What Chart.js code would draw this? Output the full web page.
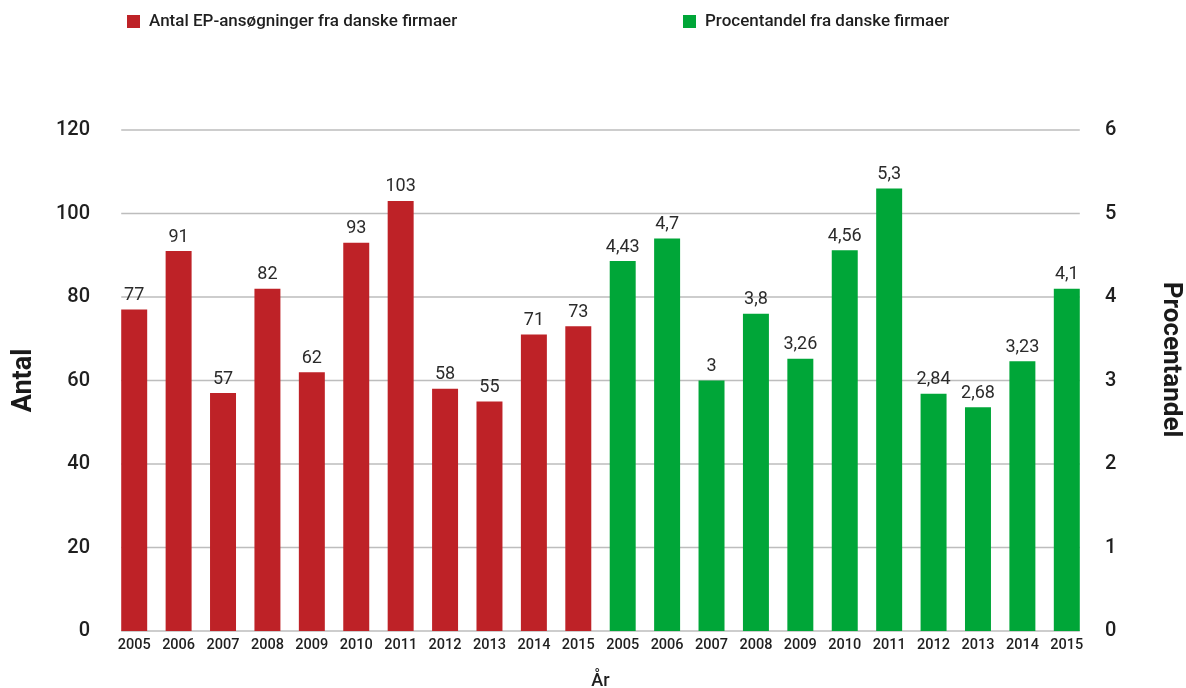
<!DOCTYPE html>
<html><head><meta charset="utf-8">
<script src="https://cdn.jsdelivr.net/npm/chart.js@4.4.1/dist/chart.umd.min.js"></script>
<style>html,body{margin:0;padding:0;background:#fff;}#wrap{position:relative;width:1186px;height:688px;}</style>
</head><body><div id="wrap"><canvas id="c" width="1186" height="688"></canvas></div>
<script>
// ---- data ----
const years = ['2005','2006','2007','2008','2009','2010','2011','2012','2013','2014','2015'];
const categories = years.concat(years);
const antal = [77, 91, 57, 82, 62, 93, 103, 58, 55, 71, 73];
const procent = [4.43, 4.7, 3, 3.8, 3.26, 4.56, 5.3, 2.84, 2.68, 3.23, 4.1];
const seriesNames = ['Antal EP-ansøgninger fra danske firmaer', 'Procentandel fra danske firmaer'];
const leftAxis = {min: 0, max: 120, step: 20, title: 'Antal'};
const rightAxis = {min: 0, max: 6, step: 1, title: 'Procentandel'};
const xTitle = 'År';

const RED = '#BE2227', GREEN = '#00A638';
const FONT = 'Roboto, "Noto Sans", sans-serif';
const empty = years.map(() => null);

const gridPlugin = {
  id: 'customGrid',
  beforeDatasetsDraw(chart) {
    const ctx = chart.ctx, ys = chart.scales.y;
    const first = chart.getDatasetMeta(0).data[0];
    const lastMeta = chart.getDatasetMeta(1).data;
    const last = lastMeta[lastMeta.length - 1];
    const x0 = first.x - first.width / 2, x1 = last.x + last.width / 2;
    ctx.save();
    ctx.strokeStyle = '#bdbdbd';
    ctx.lineWidth = 1.5;
    ys.ticks.forEach(t => {
      const py = ys.getPixelForValue(t.value);
      ctx.beginPath(); ctx.moveTo(x0, py); ctx.lineTo(x1, py); ctx.stroke();
    });
    ctx.restore();
  }
};

const labelPlugin = {
  id: 'valueLabels',
  afterDatasetsDraw(chart) {
    const ctx = chart.ctx;
    ctx.save();
    ctx.font = '400 18px ' + FONT;
    ctx.fillStyle = '#2b2b2b';
    ctx.textAlign = 'center';
    ctx.textBaseline = 'bottom';
    chart.data.datasets.forEach((ds, di) => {
      chart.getDatasetMeta(di).data.forEach((el, i) => {
        const v = ds.data[i];
        if (v === null || v === undefined) return;
        ctx.fillText(String(v).replace('.', ','), el.x, el.y - 5);
      });
    });
    ctx.restore();
  }
};

const legendPlugin = {
  id: 'topLegend',
  afterDraw(chart) {
    const ctx = chart.ctx;
    const xs = [127, 683];
    ctx.save();
    ctx.font = '500 17px ' + FONT;
    ctx.textBaseline = 'middle';
    ctx.textAlign = 'left';
    chart.data.datasets.forEach((ds, i) => {
      ctx.fillStyle = ds.backgroundColor;
      ctx.fillRect(xs[i], 15, 13, 13);
      ctx.fillStyle = '#1f1f1f';
      ctx.fillText(ds.label, xs[i] + 22, 22);
    });
    // right axis title
    const ys = chart.scales.y1;
    ctx.font = '700 26px ' + FONT;
    ctx.fillStyle = '#1a1a1a';
    ctx.textAlign = 'center';
    ctx.textBaseline = 'middle';
    ctx.translate(ys.right - 16, ys.getPixelForValue(3.25));
    ctx.rotate(Math.PI / 2);
    ctx.fillText(rightAxis.title, 0, 0);
    ctx.restore();
  }
};

new Chart(document.getElementById('c'), {
  type: 'bar',
  data: {
    labels: categories,
    datasets: [
      {label: seriesNames[0], data: antal.concat(empty), backgroundColor: RED, yAxisID: 'y',
       grouped: false, categoryPercentage: 1, barPercentage: 0.585},
      {label: seriesNames[1], data: empty.concat(procent), backgroundColor: GREEN, yAxisID: 'y1',
       grouped: false, categoryPercentage: 1, barPercentage: 0.585}
    ]
  },
  options: {
    responsive: false, animation: false, devicePixelRatio: 1,
    layout: {padding: {top: 130, left: 0, right: 0, bottom: 0}},
    plugins: {legend: {display: false}, tooltip: {enabled: false}},
    scales: {
      x: {
        offset: true,
        grid: {display: false}, border: {display: false},
        ticks: {color: '#1f1f1f', font: {family: FONT, size: 14.5, weight: 500}, padding: -2,
                maxRotation: 0, autoSkip: false},
        title: {display: true, text: xTitle, color: '#1f1f1f',
                font: {family: FONT, size: 18, weight: 500, lineHeight: 0.7}, padding: 0},
        afterFit(s) { s.height = 57; }
      },
      y: {
        position: 'left', min: leftAxis.min, max: leftAxis.max,
        grid: {display: false, drawTicks: false}, border: {display: false},
        ticks: {stepSize: leftAxis.step, color: '#1f1f1f', padding: 22,
                font: {family: FONT, size: 20, weight: 500}},
        title: {display: true, text: leftAxis.title, color: '#1a1a1a',
                font: {family: FONT, size: 27, weight: 700}, padding: {top: 8, bottom: 0}},
        afterFit(s) { s.width = 112; }
      },
      y1: {
        position: 'right', min: rightAxis.min, max: rightAxis.max,
        grid: {display: false, drawTicks: false}, border: {display: false},
        ticks: {stepSize: rightAxis.step, color: '#1f1f1f', padding: 16,
                font: {family: FONT, size: 20, weight: 500}},
        title: {display: false},
        afterFit(s) { s.width = 97; }
      }
    }
  },
  plugins: [gridPlugin, labelPlugin, legendPlugin]
});
</script>
</body></html>
